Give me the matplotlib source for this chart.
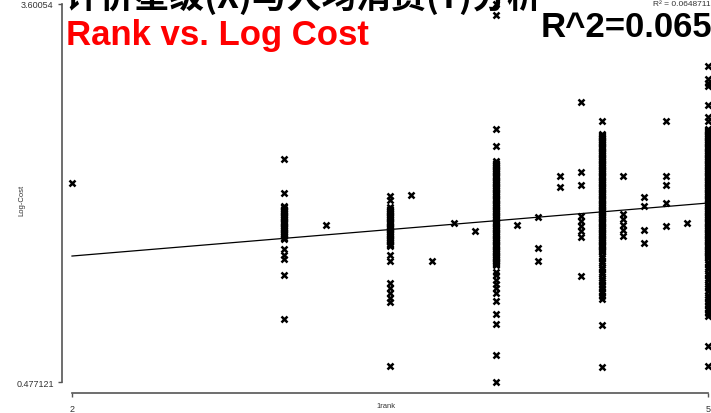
import matplotlib.pyplot as plt
import numpy as np

# log cost values per hotel rank
cost_r20 = [2.121]
cost_r30 = [2.320, 2.039,
            1.93, 1.92, 1.91, 1.90, 1.89, 1.88, 1.87, 1.86, 1.85, 1.84, 1.83,
            1.82, 1.81, 1.80, 1.79, 1.78, 1.77, 1.76, 1.75, 1.74, 1.73, 1.72,
            1.71, 1.70, 1.69, 1.68, 1.67, 1.66,
            1.576, 1.526, 1.493, 1.361, 0.998]
cost_r32 = [1.777]
cost_r35 = [2.014, 1.981,
            1.92, 1.91, 1.90, 1.89, 1.88, 1.87, 1.86, 1.85, 1.84, 1.83, 1.82,
            1.81, 1.80, 1.79, 1.78, 1.77, 1.76, 1.75, 1.74, 1.73, 1.72, 1.71,
            1.70, 1.69, 1.68, 1.67, 1.66, 1.65, 1.64, 1.63, 1.62, 1.61, 1.60,
            1.526, 1.477, 1.295, 1.254, 1.213, 1.171, 1.138, 0.609]
cost_r36 = [2.022]
cost_r37 = [1.477]
cost_r38 = [1.791]
cost_r39 = [1.725]
cost_r40 = [3.60054, 3.510, 2.568, 2.427,
            2.30, 2.29, 2.28, 2.27, 2.26, 2.25, 2.24, 2.23, 2.22, 2.21, 2.20,
            2.19, 2.18, 2.17, 2.16, 2.15, 2.14, 2.13, 2.12, 2.11, 2.10, 2.09,
            2.08, 2.07, 2.06, 2.05, 2.04, 2.03, 2.02, 2.01, 2.00, 1.99, 1.98,
            1.97, 1.96, 1.95, 1.94, 1.93, 1.92, 1.91, 1.90, 1.89, 1.88, 1.87,
            1.86, 1.85, 1.84, 1.83, 1.82, 1.81, 1.80, 1.79, 1.78, 1.77, 1.76,
            1.75, 1.74, 1.73, 1.72, 1.71, 1.70, 1.69, 1.68, 1.67, 1.66, 1.65,
            1.64, 1.63, 1.62, 1.61, 1.60, 1.59, 1.58, 1.57, 1.56, 1.55, 1.54,
            1.53, 1.52, 1.51, 1.50, 1.49, 1.48, 1.47, 1.46, 1.45, 1.44,
            1.39, 1.36, 1.32, 1.29, 1.25, 1.21, 1.15, 1.04,
            0.956, 0.700, 0.477121]
cost_r41 = [1.775]
cost_r42 = [1.841, 1.584, 1.477]
cost_r43 = [2.179, 2.088]
cost_r44 = [2.791, 2.212, 2.105, 1.849, 1.808, 1.766, 1.725, 1.675, 1.353]
cost_r45 = [2.634,
            2.53, 2.52, 2.51, 2.50, 2.49, 2.48, 2.47, 2.46, 2.45, 2.44, 2.43,
            2.42, 2.41, 2.40, 2.39, 2.38, 2.37, 2.36, 2.35, 2.34, 2.33, 2.32,
            2.31, 2.30, 2.29, 2.28, 2.27, 2.26, 2.25, 2.24, 2.23, 2.22, 2.21,
            2.20, 2.19, 2.18, 2.17, 2.16, 2.15, 2.14, 2.13, 2.12, 2.11, 2.10,
            2.09, 2.08, 2.07, 2.06, 2.05, 2.04, 2.03, 2.02, 2.01, 2.00, 1.99,
            1.98, 1.97, 1.96, 1.95, 1.94, 1.93, 1.92, 1.91, 1.90, 1.89, 1.88,
            1.87, 1.86, 1.85, 1.84, 1.83, 1.82, 1.81, 1.80, 1.79, 1.78, 1.77,
            1.76, 1.75, 1.74, 1.73, 1.72, 1.71, 1.70, 1.69, 1.68, 1.67, 1.66,
            1.65, 1.64, 1.63, 1.62, 1.61, 1.60, 1.59, 1.58, 1.57, 1.56, 1.55,
            1.52, 1.50, 1.48, 1.46, 1.43, 1.41, 1.39, 1.37, 1.34, 1.32, 1.30,
            1.28, 1.25, 1.23, 1.21, 1.19, 1.16,
            0.948, 0.601]
cost_r46 = [2.179, 1.865, 1.824, 1.775, 1.733, 1.684]
cost_r47 = [2.006, 1.931, 1.733, 1.626]
cost_r48 = [2.634, 2.179, 2.105, 1.956, 1.766]
cost_r49 = [1.791]
cost_r50 = [3.088, 2.98, 2.95, 2.92, 2.766, 2.667, 2.634,
            2.57, 2.56, 2.55, 2.54, 2.53, 2.52, 2.51, 2.50, 2.49, 2.48, 2.47,
            2.46, 2.45, 2.44, 2.43, 2.42, 2.41, 2.40, 2.39, 2.38, 2.37, 2.36,
            2.35, 2.34, 2.33, 2.32, 2.31, 2.30, 2.29, 2.28, 2.27, 2.26, 2.25,
            2.24, 2.23, 2.22, 2.21, 2.20, 2.19, 2.18, 2.17, 2.16, 2.15, 2.14,
            2.13, 2.12, 2.11, 2.10, 2.09, 2.08, 2.07, 2.06, 2.05, 2.04, 2.03,
            2.02, 2.01, 2.00, 1.99, 1.98, 1.97, 1.96, 1.95, 1.94, 1.93, 1.92,
            1.91, 1.90, 1.89, 1.88, 1.87, 1.86, 1.85, 1.84, 1.83, 1.82, 1.81,
            1.80, 1.79, 1.78, 1.77, 1.76, 1.75, 1.74, 1.73, 1.72, 1.71, 1.70,
            1.69, 1.68, 1.67, 1.66, 1.65, 1.64, 1.63, 1.62, 1.61, 1.60, 1.59,
            1.58, 1.57, 1.56, 1.55, 1.54, 1.53, 1.52, 1.51, 1.50,
            1.47, 1.45, 1.43, 1.41, 1.38, 1.36, 1.34, 1.32, 1.29, 1.27, 1.25,
            1.23, 1.20, 1.18, 1.16, 1.14, 1.11, 1.09, 1.07, 1.05, 1.02,
            0.775, 0.609]

ranks = [2.0, 3.0, 3.2, 3.5, 3.6, 3.7, 3.8, 3.9, 4.0, 4.1, 4.2, 4.3, 4.4,
         4.5, 4.6, 4.7, 4.8, 4.9, 5.0]
costs = [cost_r20, cost_r30, cost_r32, cost_r35, cost_r36, cost_r37, cost_r38,
         cost_r39, cost_r40, cost_r41, cost_r42, cost_r43, cost_r44, cost_r45,
         cost_r46, cost_r47, cost_r48, cost_r49, cost_r50]

# fitted line
fit_intercept = 1.226
fit_slope = 0.146

x = np.concatenate([[r] * len(c) for r, c in zip(ranks, costs)])
y = np.concatenate(costs)

plt.rcParams['font.family'] = ['Liberation Sans', 'DejaVu Sans']

fig = plt.figure(figsize=(7.11, 4.14), dpi=100)
ax = fig.add_axes([62 / 711, 20 / 414, (720 - 62) / 711, 404 / 414])

ax.plot(x, y, linestyle='none', marker='x', markersize=5, mew=1.8,
        color='black', clip_on=False)
xs = np.array([2.0, 5.0])
ax.plot(xs, fit_intercept + fit_slope * xs, color='black', lw=0.9)

ax.set_xlim(2 - 10 / 212, 2 + (720 - 72) / 212)
ax.set_ylim(3.60054 - 389 * 0.008263, 3.60054 + 15 * 0.008263)

for s in ['top', 'right']:
    ax.spines[s].set_visible(False)
ax.spines['left'].set_bounds(0.477121, 3.60054)
ax.spines['bottom'].set_bounds(2, 5)
for s in ['left', 'bottom']:
    ax.spines[s].set_color('#555555')
    ax.spines[s].set_linewidth(1.2)

ax.set_yticks([0.477121, 3.60054])
ax.set_yticklabels(['0.477121', '3.60054'])
ax.set_xticks([2, 5])
ax.set_xticklabels(['2', '5'])
ax.tick_params(length=3, width=1, color='#555555', labelsize=6.5, pad=3,
               labelcolor='#333333')
ax.tick_params(axis='x', pad=5)

fig.text(386 / 711, 1 - 407 / 414, '1rank', fontsize=5.5, color='#333333',
         ha='center', va='center')
fig.text(22 / 711, 1 - 200 / 414, 'Log-Cost', fontsize=5.5, color='#333333',
         rotation=90, ha='center', va='center')

fig.text(66 / 711, 1 - 8 / 414, '评价星级(X)与人均消费(Y)分析', fontsize=25,
         fontweight='bold', family=['Noto Sans CJK SC', 'DejaVu Sans'],
         ha='left', va='baseline')
fig.text(66 / 711, 1 - 45 / 414, 'Rank vs. Log Cost', fontsize=25,
         fontweight='bold', color='red', ha='left', va='baseline')
fig.text(541 / 711, 1 - 37 / 414, 'R^2=0.065', fontsize=25,
         fontweight='bold', color='black', ha='left', va='baseline')
fig.text(653 / 711, 1 - 5 / 414, 'R² = 0.0648711', fontsize=6,
         color='#333333', ha='left', va='center')

fig.savefig('out.png', dpi=100)
